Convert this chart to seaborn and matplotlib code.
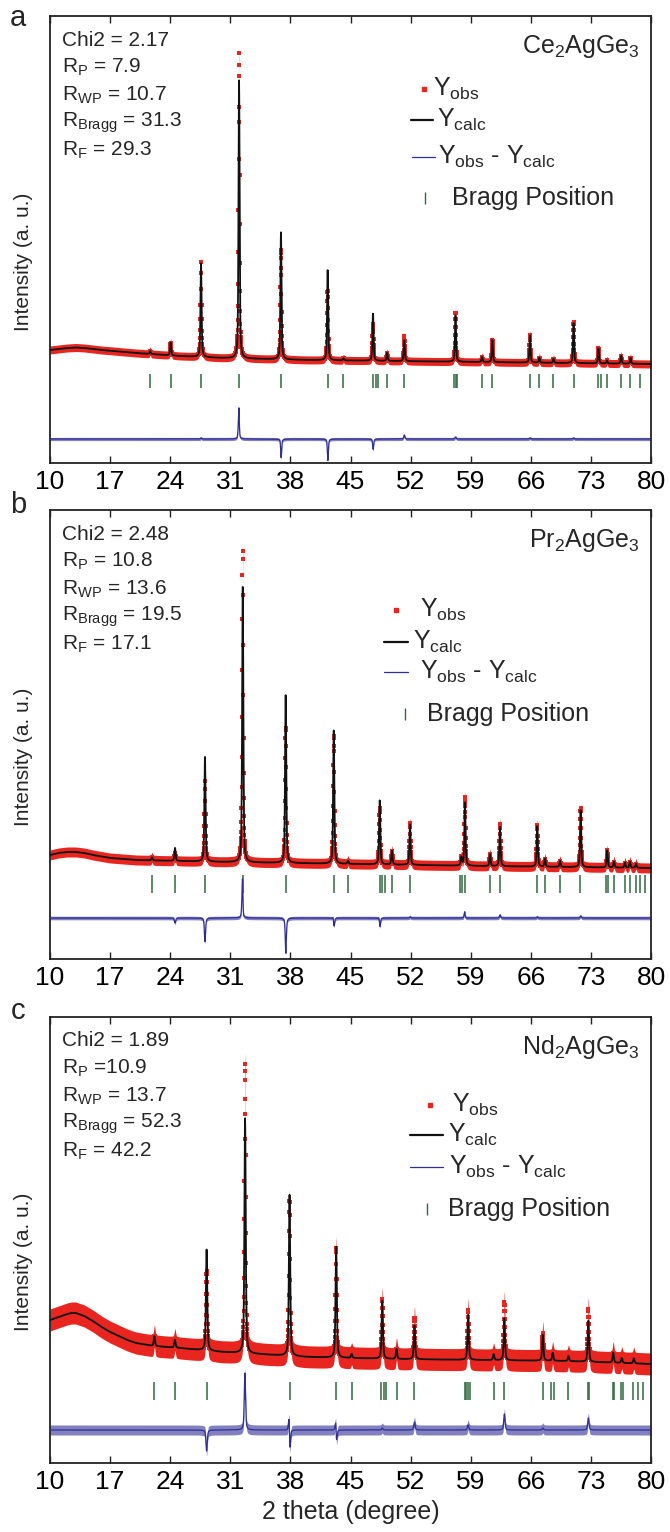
import numpy as np
import pandas as pd
import matplotlib
matplotlib.use("Agg")
import matplotlib.pyplot as plt
import seaborn as sns

sns.set_theme(style="white")
plt.rcParams['font.family'] = ['Liberation Sans', 'DejaVu Sans']
plt.rcParams['mathtext.fontset'] = 'custom'
plt.rcParams['mathtext.rm'] = 'Liberation Sans'
plt.rcParams['mathtext.it'] = 'Liberation Sans:italic'
plt.rcParams['mathtext.bf'] = 'Liberation Sans:bold'

# ---------------- data ----------------
x_tick_values = [10, 17, 24, 31, 38, 45, 52, 59, 66, 73, 80]
scan_step = 0.02

# Panel a : Ce2AgGe3
ce_bg_x = [10, 11, 12, 13, 14, 15, 16, 18, 20, 25, 30, 40, 50, 60, 70, 80]
ce_bg_y = [113, 114, 115, 115.5, 115, 114, 113, 111.5, 110, 107, 105, 103, 102, 101, 100, 99]
ce_peak_x = [21.66, 24.05, 27.59, 32.02, 36.90, 42.34, 44.18, 47.62, 49.26, 51.26,
             57.23, 60.32, 61.52, 65.90, 67.00, 68.64, 70.98, 73.88, 74.87, 76.52, 77.61]
ce_calc_h = [3, 13, 95, 278, 127, 90, 2, 47, 8, 21, 47, 5, 22, 27, 5, 4, 40, 15, 3, 8, 6]
ce_obs_h = [3, 13, 96, 306, 110, 70, 2, 37, 8, 25, 49, 5, 22, 28, 5, 4, 41, 15, 3, 8, 6]
ce_obs_dx = [0, 0, 0, -0.003, -0.004, -0.006, 0, -0.004, 0, 0, 0, 0, 0, 0, 0, 0, 0, 0, 0, 0, 0]
ce_bragg = [21.66, 24.05, 27.59, 32.02, 36.90, 42.34, 44.18, 47.62, 47.92, 48.22, 49.26,
            51.26, 57.03, 57.23, 57.43, 60.32, 61.52, 65.90, 67.00, 68.64, 70.98, 73.88,
            74.12, 74.87, 76.52, 77.61, 78.71]
ce_stats = ["Chi2 = 2.17", "R$_\\mathregular{P}$ = 7.9", "R$_\\mathregular{WP}$ = 10.7",
            "R$_\\mathregular{Bragg}$ = 31.3", "R$_\\mathregular{F}$ = 29.3"]
ce_name = "Ce$_\\mathregular{2}$AgGe$_\\mathregular{3}$"

# Panel b : Pr2AgGe3
pr_bg_x = [10, 11, 12, 13, 14, 15, 17, 20, 30, 45, 60, 80]
pr_bg_y = [104, 106, 107, 107, 106, 104, 101, 99, 97, 95, 93, 91]
pr_peak_x = [21.88, 24.56, 28.05, 32.45, 37.45, 43.05, 44.71, 48.40, 49.83, 51.93,
             57.90, 58.33, 61.25, 62.41, 66.75, 67.65, 69.40, 71.80, 74.90, 75.69, 76.97, 77.55, 78.25]
pr_calc_h = [3, 13, 106, 279, 170, 135, 3, 64, 14, 41, 8, 64, 12, 40, 41, 8, 6, 57, 17, 6, 5, 6, 4]
pr_obs_h = [3, 8, 82, 312, 136, 129, 3, 57, 14, 42, 8, 69, 12, 43, 42, 8, 6, 59, 17, 6, 5, 6, 4]
pr_obs_dx = [0, 0, 0, -0.005, -0.004, -0.003, 0, -0.006, 0, 0, 0, -0.004, 0, 0, 0, 0, 0, 0, 0, 0, 0, 0, 0]
pr_bragg = [21.88, 24.56, 28.05, 32.48, 37.49, 43.08, 44.71, 48.43, 48.67, 49.02, 49.83,
            51.93, 57.75, 57.98, 58.33, 61.25, 62.41, 66.72, 67.65, 69.40, 71.73, 74.76,
            74.99, 75.69, 76.97, 77.55, 78.25, 78.72, 79.30]
pr_stats = ["Chi2 = 2.48", "R$_\\mathregular{P}$ = 10.8", "R$_\\mathregular{WP}$ = 13.6",
            "R$_\\mathregular{Bragg}$ = 19.5", "R$_\\mathregular{F}$ = 17.1"]
pr_name = "Pr$_\\mathregular{2}$AgGe$_\\mathregular{3}$"

# Panel c : Nd2AgGe3
nd_bg_x = [10, 11, 12, 12.5, 13, 14, 15, 16, 17, 18, 19, 20, 22, 25, 30, 40, 50, 60, 70, 80]
nd_bg_y = [143, 146, 149, 150, 150, 147, 142, 136, 131, 127, 123, 120, 117, 115, 111, 106, 104, 103, 102, 99]
nd_peak_x = [22.16, 24.55, 28.24, 32.72, 37.90, 43.33, 45.13, 48.70, 50.36, 52.45,
             58.70, 61.67, 62.92, 67.40, 68.55, 70.39, 72.70, 75.60, 76.60, 78.00]
nd_calc_h = [10, 8, 101, 235, 161, 112, 4, 58, 10, 34, 45, 6, 42, 26, 8, 5, 41, 10, 5, 5]
nd_obs_h = [10, 8, 80, 290, 156, 110, 4, 60, 10, 42, 50, 6, 58, 28, 8, 5, 53, 10, 5, 5]
nd_obs_dx = [0, 0, 0, -0.004, -0.012, -0.010, 0, 0, 0, 0, 0, 0, 0, 0, 0, 0, 0, 0, 0, 0]
nd_bragg = [22.16, 24.55, 28.24, 32.72, 37.90, 43.33, 45.13, 48.61, 48.86, 49.11, 50.36,
            52.45, 58.28, 58.48, 58.68, 58.88, 61.67, 62.92, 67.40, 68.40, 68.70, 70.39,
            72.63, 72.78, 75.52, 75.72, 76.47, 76.77, 77.86, 78.46, 79.11]
nd_stats = ["Chi2 = 1.89", "R$_\\mathregular{P}$ =10.9", "R$_\\mathregular{WP}$ = 13.7",
            "R$_\\mathregular{Bragg}$ = 52.3", "R$_\\mathregular{F}$ = 42.2"]
nd_name = "Nd$_\\mathregular{2}$AgGe$_\\mathregular{3}$"

legend_labels = ["Y$_\\mathregular{obs}$", "Y$_\\mathregular{calc}$",
                 "Y$_\\mathregular{obs}$ - Y$_\\mathregular{calc}$", "Bragg Position"]

# ---------------- styles / layout ----------------
RED = "#e8261f"
BLACK = "#111111"
NAVY = "#2e2e96"
GREEN = "#2f6b40"

W, Hfig = 670, 1532
AX_L, AX_R = 50, 651
panels = [
    dict(tag="a", tag_y=18, top=16, bottom=463, bg=(ce_bg_x, ce_bg_y), px=ce_peak_x,
         ch=ce_calc_h, oh=ce_obs_h, odx=ce_obs_dx, bragg=ce_bragg, stats=ce_stats,
         name=ce_name, fwhm=0.15, band=4, dband=1.6, bragg_lvl=82, diff_lvl=24, tick_h=14,
         # legend: (handle x0, handle x1, text x, y) in figure pixels
         leg=[(424, 424, 433, 89), (411, 433, 437, 120), (412, 435, 438, 157), (425, 425, 452, 198)],
         show_xlabel=False),
    dict(tag="b", tag_y=505, top=510, bottom=959, bg=(pr_bg_x, pr_bg_y), px=pr_peak_x,
         ch=pr_calc_h, oh=pr_obs_h, odx=pr_obs_dx, bragg=pr_bragg, stats=pr_stats,
         name=pr_name, fwhm=0.16, band=5, dband=1.8, bragg_lvl=75, diff_lvl=41, tick_h=18,
         leg=[(396, 396, 420, 610), (384, 408, 413, 642), (384, 408, 420, 672), (405, 405, 427, 714)],
         show_xlabel=False),
    dict(tag="c", tag_y=1011, top=1017, bottom=1463, bg=(nd_bg_x, nd_bg_y), px=nd_peak_x,
         ch=nd_calc_h, oh=nd_obs_h, odx=nd_obs_dx, bragg=nd_bragg, stats=nd_stats,
         name=nd_name, fwhm=0.18, band=11, dband=5.0, bragg_lvl=72, diff_lvl=33, tick_h=18,
         leg=[(430, 430, 452, 1105), (410, 443, 448, 1135), (410, 443, 449, 1167), (427, 427, 448, 1209)],
         show_xlabel=True),
]


def pv(x, x0, w, eta=0.55):
    d = (x - x0) / w
    return eta / (1 + 4 * d * d) + (1 - eta) * np.exp(-4 * np.log(2) * d * d)


two_theta = np.arange(10, 80 + scan_step / 2, scan_step)

fig = plt.figure(figsize=(W / 100, Hfig / 100), dpi=100)


def fx(v):
    return v / W


def fy(v):
    return 1 - v / Hfig


for p in panels:
    H = p["bottom"] - p["top"]
    ax = fig.add_axes([AX_L / W, 1 - p["bottom"] / Hfig, (AX_R - AX_L) / W, H / Hfig])

    bg = np.interp(two_theta, p["bg"][0], p["bg"][1])
    calc = bg.copy()
    obs = bg.copy()
    for x0, hc, ho, dx in zip(p["px"], p["ch"], p["oh"], p["odx"]):
        calc += hc * pv(two_theta, x0, p["fwhm"])
        obs += ho * pv(two_theta, x0 + dx, p["fwhm"])
    diff = obs - calc

    df = pd.DataFrame({"tt": two_theta, "obs": obs, "calc": calc,
                       "diff": diff + p["diff_lvl"]})

    # observed band + points
    ax.fill_between(df["tt"], df["obs"] - p["band"], df["obs"] + p["band"],
                    color=RED, lw=0, zorder=1)
    sns.scatterplot(data=df, x="tt", y="obs", ax=ax, marker="s", s=7, color=RED,
                    linewidth=0, zorder=2, legend=False)
    # calculated
    sns.lineplot(data=df, x="tt", y="calc", ax=ax, color=BLACK, lw=1.3,
                 estimator=None, sort=False, zorder=3, legend=False)
    # difference
    ax.fill_between(df["tt"], df["diff"] - p["dband"], df["diff"] + p["dband"],
                    color=NAVY, alpha=0.6, lw=0, zorder=2)
    sns.lineplot(data=df, x="tt", y="diff", ax=ax, color=NAVY, lw=0.9,
                 estimator=None, sort=False, zorder=3, legend=False)
    # Bragg positions
    ax.plot(p["bragg"], [p["bragg_lvl"]] * len(p["bragg"]), ls="none", marker="|",
            ms=p["tick_h"] * 0.72, mew=1.1, color=GREEN, zorder=2)

    ax.set_xlim(10, 80)
    ax.set_ylim(0, H)
    ax.set_xticks(x_tick_values)
    ax.set_xticklabels([str(v) for v in x_tick_values])
    ax.set_yticks([])
    ax.tick_params(axis="x", direction="in", top=True, bottom=True, length=5,
                   width=1.0, labelsize=19, pad=5, colors="#222222", labelcolor="black")
    for s in ax.spines.values():
        s.set_color("#222222")
        s.set_linewidth(1.3)
        s.set_visible(True)
    ax.set_ylabel("Intensity (a. u.)", fontsize=15)
    ax.yaxis.set_label_coords(-0.028, 0.45)
    ax.set_xlabel("2 theta (degree)" if p["show_xlabel"] else "", fontsize=18, labelpad=4)

    # statistics text
    for i, line in enumerate(p["stats"]):
        ax.text(12 / (AX_R - AX_L), 1 - (24 + 27.5 * i) / H, line, transform=ax.transAxes,
                fontsize=15, ha="left", va="center")
    ax.text(0.982, 1 - 30 / H, p["name"], transform=ax.transAxes, fontsize=18,
            ha="right", va="center")

    # legend entries (drawn in figure pixel coordinates)
    (o0, o1, ot, oy), (c0, c1, ct, cy), (d0, d1, dt, dy), (b0, b1, bt, by) = p["leg"]
    fig.add_artist(plt.Line2D([fx(o0)], [fy(oy)], ls="none", marker="s", ms=2.6,
                              color=RED, transform=fig.transFigure))
    fig.add_artist(plt.Line2D([fx(c0), fx(c1)], [fy(cy), fy(cy)], color=BLACK, lw=1.6,
                              transform=fig.transFigure))
    fig.add_artist(plt.Line2D([fx(d0), fx(d1)], [fy(dy), fy(dy)], color=NAVY, lw=0.9,
                              transform=fig.transFigure))
    fig.add_artist(plt.Line2D([fx(b0)], [fy(by)], ls="none", marker="|", ms=9, mew=1.0,
                              color=GREEN, transform=fig.transFigure))
    for (tx, ty), lab in zip([(ot, oy), (ct, cy), (dt, dy), (bt, by)], legend_labels):
        fig.text(fx(tx), fy(ty), lab, fontsize=18, ha="left", va="center")

    fig.text(18 / W, fy(p["tag_y"]), p["tag"], fontsize=21, ha="center", va="center")

fig.savefig("out.png", dpi=100)
